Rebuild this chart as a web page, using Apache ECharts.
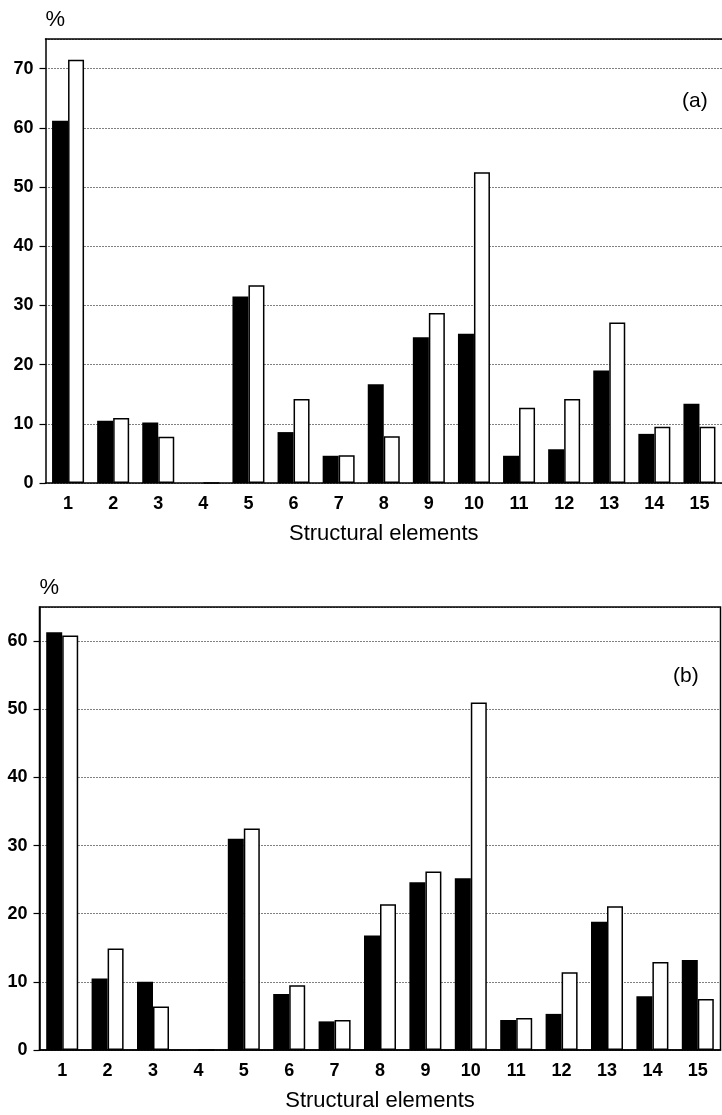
<!DOCTYPE html>
<html>
<head>
<meta charset="utf-8">
<script src="https://cdn.jsdelivr.net/npm/echarts@6/dist/echarts.min.js"></script>
<style>
html,body{margin:0;padding:0;background:#fff;}
#chart{width:722px;height:1115px;}
</style>
</head>
<body>
<div id="chart"></div>
<script>
var categories = ['1','2','3','4','5','6','7','8','9','10','11','12','13','14','15'];
var aBlack = [61.2,10.5,10.2,0,31.5,8.6,4.6,16.7,24.6,25.2,4.6,5.7,19.0,8.3,13.4];
var aWhite = [71.5,11.0,7.8,0,33.4,14.2,4.7,7.9,28.7,52.5,12.7,14.2,27.1,9.5,9.5];
var bBlack = [61.3,10.5,10.0,0,31.0,8.2,4.2,16.8,24.6,25.2,4.4,5.3,18.8,7.9,13.2];
var bWhite = [60.8,14.9,6.4,0,32.5,9.5,4.4,21.4,26.2,51.0,4.7,11.4,21.1,12.9,7.5];
var yTicksA = {min:0, max:75, interval:10};
var yTicksB = {min:0, max:65, interval:10};
var xName = 'Structural elements';
var panelA = '(a)', panelB = '(b)';

var FONT = "'Liberation Sans', Arial, Helvetica, sans-serif";
var chart = echarts.init(document.getElementById('chart'), null, {renderer:'canvas'});

function yAxis(idx, t){
  return {
    type:'value', gridIndex:idx, min:t.min, max:t.max, interval:t.interval,
    name:'%', nameLocation:'end', nameGap:8,
    nameTextStyle:{fontFamily:FONT, fontSize:22, color:'#000', align:'left'},
    axisLine:{show:true, lineStyle:{color:'#000', width:1.5}},
    axisTick:{show:true, inside:false, length:6, lineStyle:{color:'#000', width:1.2}},
    axisLabel:{fontFamily:FONT, fontSize:18, fontWeight:'bold', color:'#000', margin:12, showMaxLabel:false},
    splitLine:{show:true, lineStyle:{color:'#000', width:1, type:[1,2]}}
  };
}
function xAxis(idx){
  return {
    type:'category', gridIndex:idx, data:categories,
    name:xName, nameLocation:'middle', nameGap:40,
    nameTextStyle:{fontFamily:FONT, fontSize:22, color:'#000'},
    axisLine:{show:true, onZero:true, lineStyle:{color:'#000', width:1.5}},
    axisTick:{show:false},
    axisLabel:{fontFamily:FONT, fontSize:18, fontWeight:'bold', color:'#000', margin:12, interval:0},
    splitLine:{show:false}
  };
}
function topFrame(idx){
  return {
    type:'category', gridIndex:idx, data:categories, position:'top',
    axisLine:{show:true, onZero:false, lineStyle:{color:'#000', width:1.5}},
    axisTick:{show:false}, axisLabel:{show:false}, splitLine:{show:false}
  };
}
function bar(idx, data, white){
  return {
    type:'bar', xAxisIndex:idx, yAxisIndex:idx, data:data,
    barWidth:16, barGap:'0%',
    itemStyle: white ? {color:'#fff', borderColor:'#000', borderWidth:1.5} : {color:'#000'},
    emphasis:{disabled:true}, animation:false
  };
}

chart.setOption({
  animation:false,
  backgroundColor:'#fff',
  title:[
    {text:panelA, left:682, top:91, padding:0, textStyle:{fontFamily:FONT, fontSize:21, fontWeight:'normal', color:'#000'}},
    {text:panelB, left:673, top:666, padding:0, textStyle:{fontFamily:FONT, fontSize:21, fontWeight:'normal', color:'#000'}}
  ],
  grid:[
    {left:45.5, right:0, top:39, height:444, show:false},
    {left:39.5, right:1.5, top:607, height:443, show:true, borderColor:'#000', borderWidth:1.5, backgroundColor:'transparent'}
  ],
  xAxis:[xAxis(0), xAxis(1), topFrame(0)],
  yAxis:[yAxis(0, yTicksA), yAxis(1, yTicksB)],
  series:[
    bar(0, aBlack, false), bar(0, aWhite, true),
    bar(1, bBlack, false), bar(1, bWhite, true)
  ]
});
</script>
</body>
</html>
